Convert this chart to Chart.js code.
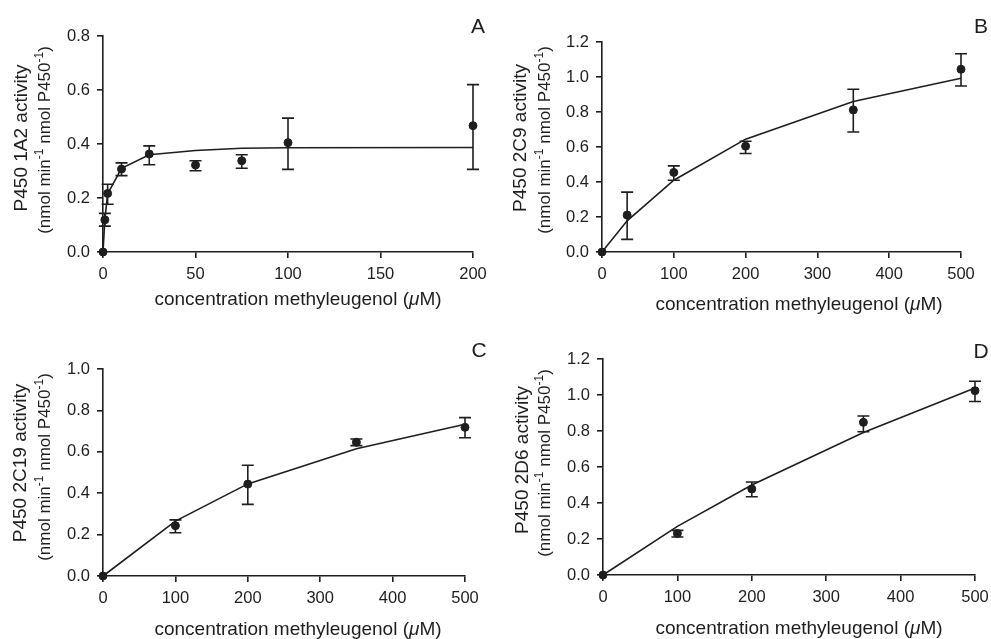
<!DOCTYPE html>
<html><head><meta charset="utf-8">
<script src="https://cdn.jsdelivr.net/npm/chart.js@4.4.1/dist/chart.umd.min.js"></script>
<style>
html,body{margin:0;padding:0;background:#fff;width:991px;height:639px;overflow:hidden;position:relative}
canvas{position:absolute;display:block}
</style></head><body>
<canvas id="cA" width="495" height="320" style="left:0;top:0"></canvas>
<canvas id="cB" width="496" height="320" style="left:495px;top:0"></canvas>
<canvas id="cC" width="495" height="319" style="left:0;top:320px"></canvas>
<canvas id="cD" width="510" height="319" style="left:495px;top:320px"></canvas>
<script>
// ---- data ----
const xA = [0, 1, 2.5, 10, 25, 50, 75, 100, 200];
const yA = [0, 0.119, 0.217, 0.307, 0.363, 0.322, 0.338, 0.405, 0.468];
const loA = [null, 0.096, 0.177, 0.283, 0.323, 0.301, 0.310, 0.306, 0.306];
const hiA = [null, 0.143, 0.251, 0.330, 0.393, 0.338, 0.360, 0.496, 0.620];
const fitA = [0, 0.12, 0.215, 0.31, 0.36, 0.376, 0.384, 0.386, 0.387];

const xB = [0, 35, 100, 200, 350, 500];
const yB = [0, 0.211, 0.455, 0.605, 0.812, 1.044];
const loB = [null, 0.072, 0.410, 0.563, 0.686, 0.949];
const hiB = [null, 0.342, 0.492, 0.633, 0.930, 1.133];
const fitB = [0, 0.178, 0.41, 0.645, 0.86, 0.993];

const xC = [0, 100, 200, 350, 500];
const yC = [0, 0.243, 0.444, 0.646, 0.718];
const loC = [null, 0.209, 0.346, 0.630, 0.668];
const hiC = [null, 0.271, 0.535, 0.662, 0.765];
const fitC = [0, 0.265, 0.445, 0.615, 0.733];

const xD = [0, 100, 200, 350, 500];
const yD = [0, 0.231, 0.478, 0.848, 1.024];
const loD = [null, 0.211, 0.435, 0.796, 0.964];
const hiD = [null, 0.248, 0.517, 0.883, 1.076];
const fitD = [0, 0.27, 0.50, 0.792, 1.039];

const yTitles = ['P450 1A2 activity', 'P450 2C9 activity', 'P450 2C19 activity', 'P450 2D6 activity'];
const letters = ['A', 'B', 'C', 'D'];
const xTitle = 'concentration methyleugenol (';

const INK = '#1e1e1e';
const FAM = '"Liberation Sans", Arial, sans-serif';

function richWidth(ctx, segs) {
  let w = 0;
  for (const s of segs) { ctx.font = s.font; w += ctx.measureText(s.t).width; }
  return w;
}
function drawRich(ctx, segs, cx, cy, rot) {
  ctx.save();
  ctx.translate(cx, cy);
  if (rot) ctx.rotate(rot);
  const w = richWidth(ctx, segs);
  let x = -w / 2;
  ctx.textBaseline = 'alphabetic';
  ctx.textAlign = 'left';
  ctx.fillStyle = INK;
  for (const s of segs) {
    ctx.font = s.font;
    ctx.fillText(s.t, x, s.dy || 0);
    x += ctx.measureText(s.t).width;
  }
  ctx.restore();
}

const panelPlugin = {
  id: 'panelText',
  afterDraw(chart) {
    const o = chart.options.plugins.panelText;
    const ctx = chart.ctx;
    const big = '19px ' + FAM, sub = '17px ' + FAM, sup = '12px ' + FAM;
    drawRich(ctx, [
      {t: xTitle, font: big, dy: 7},
      {t: '\u03BC', font: 'italic 19px ' + FAM, dy: 7},
      {t: 'M)', font: big, dy: 7}
    ], o.xt[0], o.xt[1], 0);
    drawRich(ctx, [{t: o.title, font: big, dy: 7}], o.yt[0], o.yt[1], -Math.PI / 2);
    drawRich(ctx, [
      {t: '(nmol min', font: sub, dy: 6},
      {t: '-1', font: sup, dy: -1},
      {t: ' nmol P450', font: sub, dy: 6},
      {t: '-1', font: sup, dy: -1},
      {t: ')', font: sub, dy: 6}
    ], o.ys[0], o.ys[1], -Math.PI / 2);
    drawRich(ctx, [{t: o.letter, font: '21px ' + FAM, dy: 8}], o.lt[0], o.lt[1], 0);
  }
};

const errPlugin = {
  id: 'errBars',
  afterDatasetsDraw(chart) {
    const ctx = chart.ctx;
    const xs = chart.scales.x, ys = chart.scales.y;
    chart.data.datasets.forEach(ds => {
      if (!ds.errLo) return;
      ctx.save();
      ctx.strokeStyle = INK;
      ctx.lineWidth = 1.6;
      ds.data.forEach((p, i) => {
        const lo = ds.errLo[i], hi = ds.errHi[i];
        if (lo == null || hi == null) return;
        const px = xs.getPixelForValue(p.x);
        const pl = ys.getPixelForValue(lo), ph = ys.getPixelForValue(hi);
        ctx.beginPath();
        ctx.moveTo(px, pl); ctx.lineTo(px, ph);
        ctx.moveTo(px - 6, pl); ctx.lineTo(px + 6, pl);
        ctx.moveTo(px - 6, ph); ctx.lineTo(px + 6, ph);
        ctx.stroke();
      });
      ctx.restore();
    });
  }
};

function makePanel(id, cfg) {
  const canvas = document.getElementById(id);
  const W = canvas.width, H = canvas.height;
  const pts = cfg.x.map((v, i) => ({x: v, y: cfg.y[i]}));
  const fit = cfg.x.map((v, i) => ({x: v, y: cfg.fit[i]}));
  new Chart(canvas, {
    type: 'scatter',
    data: {
      datasets: [
        {type: 'line', data: fit, borderColor: INK, borderWidth: 1.6, pointRadius: 0, tension: 0, fill: false, clip: false, order: 2},
        {type: 'scatter', data: pts, backgroundColor: INK, borderColor: INK, pointRadius: 4, pointHoverRadius: 4, clip: false, order: 1,
         errLo: cfg.lo, errHi: cfg.hi}
      ]
    },
    options: {
      responsive: false,
      devicePixelRatio: 1,
      animation: false,
      events: [],
      layout: {padding: {left: 0, top: cfg.area.top, right: W - cfg.area.right, bottom: 0}},
      plugins: {
        legend: {display: false}, tooltip: {enabled: false},
        panelText: cfg.text
      },
      scales: {
        x: {
          type: 'linear', min: 0, max: cfg.xmax,
          ticks: {stepSize: cfg.xstep, color: INK, font: {family: FAM, size: 16.5}, padding: 7, maxRotation: 0},
          grid: {display: true, drawOnChartArea: false, drawTicks: true, tickLength: 6, color: INK, lineWidth: 1.6},
          border: {display: true, color: INK, width: 1.6},
          afterFit: s => { s.height = H - cfg.area.bottom; }
        },
        y: {
          type: 'linear', min: 0, max: cfg.ymax,
          ticks: {stepSize: 0.2, color: INK, font: {family: FAM, size: 16.5}, padding: 7, callback: v => v.toFixed(1)},
          grid: {display: true, drawOnChartArea: false, drawTicks: true, tickLength: 6, color: INK, lineWidth: 1.6},
          border: {display: true, color: INK, width: 1.6},
          afterFit: s => { s.width = cfg.area.left; }
        }
      }
    },
    plugins: [errPlugin, panelPlugin]
  });
}

makePanel('cA', {x: xA, y: yA, lo: loA, hi: hiA, fit: fitA, xmax: 200, xstep: 50, ymax: 0.8,
  area: {left: 103, right: 473, top: 36, bottom: 252},
  text: {title: yTitles[0], letter: letters[0], xt: [298, 298], yt: [20, 138], ys: [44, 140], lt: [478, 25]}});
makePanel('cB', {x: xB, y: yB, lo: loB, hi: hiB, fit: fitB, xmax: 500, xstep: 100, ymax: 1.2,
  area: {left: 107, right: 466, top: 42, bottom: 252},
  text: {title: yTitles[1], letter: letters[1], xt: [304, 303], yt: [24, 138], ys: [49, 140], lt: [486, 25]}});
makePanel('cC', {x: xC, y: yC, lo: loC, hi: hiC, fit: fitC, xmax: 500, xstep: 100, ymax: 1.0,
  area: {left: 103, right: 465, top: 49, bottom: 256},
  text: {title: yTitles[2], letter: letters[2], xt: [298, 308], yt: [19, 143], ys: [44, 147], lt: [479, 29]}});
makePanel('cD', {x: xD, y: yD, lo: loD, hi: hiD, fit: fitD, xmax: 500, xstep: 100, ymax: 1.2,
  area: {left: 108, right: 480, top: 39, bottom: 255},
  text: {title: yTitles[3], letter: letters[3], xt: [304, 307], yt: [26, 140], ys: [49, 143], lt: [486, 30]}});
</script>
</body></html>
